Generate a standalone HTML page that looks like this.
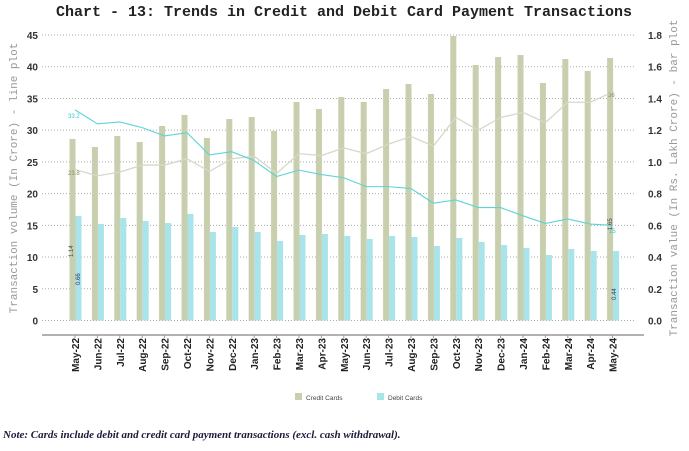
<!DOCTYPE html>
<html><head><meta charset="utf-8"><style>
body{margin:0;background:#fff;width:689px;height:446px;overflow:hidden}
</style></head><body>
<svg width="689" height="446" xmlns="http://www.w3.org/2000/svg">
<text x="344" y="16" text-anchor="middle" font-family="Liberation Mono, monospace" font-weight="bold" font-size="15" fill="#222">Chart - 13: Trends in Credit and Debit Card Payment Transactions</text>
<g id="grid" stroke="#aaa" stroke-dasharray="1,2" stroke-width="1"></g>
<g id="bars"></g><g id="lines"></g><g id="labels"></g>
<line x1="42" y1="335" x2="644" y2="335" stroke="#999" stroke-width="1.5"/>
<text transform="translate(17,178) rotate(-90)" text-anchor="middle" font-family="Liberation Mono, monospace" font-size="11" fill="#999">Transaction volume (In Crore) - line plot</text>
<text transform="translate(677,178) rotate(-90)" text-anchor="middle" font-family="Liberation Mono, monospace" font-size="11" fill="#999">Transaction value (In Rs. Lakh Crore) - bar plot</text>
<rect x="295" y="393" width="7" height="7" fill="#c8cfae"/>
<text x="306" y="400" font-family="Liberation Sans, sans-serif" font-size="6.5" fill="#444">Credit Cards</text>
<rect x="377" y="393" width="7" height="7" fill="#a8e4ea"/>
<text x="388" y="400" font-family="Liberation Sans, sans-serif" font-size="6.5" fill="#444">Debit Cards</text>
<text x="3" y="438" font-family="Liberation Serif, serif" font-style="italic" font-weight="bold" font-size="11" fill="#1a1a3a">Note: Cards include debit and credit card payment transactions (excl. cash withdrawal).</text>
</svg>
<script>
(function(){
const ns="http://www.w3.org/2000/svg";
function el(p,t,a,txt){const e=document.createElementNS(ns,t);for(const k in a)e.setAttribute(k,a[k]);if(txt!=null)e.textContent=txt;document.getElementById(p).appendChild(e);return e;}
const y0=320.5, yT=35, L=(v)=>y0-v*(y0-yT)/45;
for(let i=0;i<=9;i++){const y=L(i*5);el('grid','line',{x1:42,x2:636,y1:y,y2:y});
el('labels','text',{x:38,y:y+4,'text-anchor':'end','font-family':'Liberation Sans, sans-serif','font-weight':'bold','font-size':10,fill:'#333'},String(i*5));
el('labels','text',{x:648,y:y+4,'font-family':'Liberation Sans, sans-serif','font-weight':'bold','font-size':10,fill:'#333'},(i*0.2).toFixed(1));}
const m=["May-22","Jun-22","Jul-22","Aug-22","Sep-22","Oct-22","Nov-22","Dec-22","Jan-23","Feb-23","Mar-23","Apr-23","May-23","Jun-23","Jul-23","Aug-23","Sep-23","Oct-23","Nov-23","Dec-23","Jan-24","Feb-24","Mar-24","Apr-24","May-24"];
const ct=[139,147,136,142,126,115,138,119,117,131,102,109,97,102,89,84,94,36,65,57,55,83,59,71,58];
const dt=[216,224,218,221,223,214,232,227,232,241,235,234,236,239,236,237,246,238,242,245,248,255,249,251,251];
const cl=[23.8,22.8,23.4,24.5,24.5,25.5,23.5,25.5,25.9,23.2,26.3,26.0,27.2,26.3,27.8,29.0,27.5,32.0,30.0,32.0,32.8,31.2,34.4,34.4,36];
const dl=[33.2,31.0,31.3,30.4,29.1,29.6,26.1,26.6,25.2,22.7,23.7,23.0,22.5,21.1,21.1,20.8,18.5,19.0,17.8,17.8,16.5,15.3,16.0,15.2,15];
let p1="",p2="";
m.forEach((n,i)=>{const c=75+22.4*i;
el('bars','rect',{x:c-5.5,y:ct[i],width:6,height:y0-ct[i],fill:'#c8cfae'});
el('bars','rect',{x:c+0.5,y:dt[i],width:6,height:y0-dt[i],fill:'#a8e4ea'});
el('labels','line',{x1:c,x2:c,y1:335,y2:338,stroke:'#999'});
el('labels','text',{transform:`translate(${c+4},338) rotate(-90)`,'text-anchor':'end','font-family':'Liberation Sans, sans-serif','font-weight':'bold','font-size':10,fill:'#222'},n);
p1+=(i?"L":"M")+c+","+L(cl[i]);p2+=(i?"L":"M")+c+","+L(dl[i]);});
el('lines','path',{d:p1,fill:'none',stroke:'#d6d9c6','stroke-width':1.3});
el('lines','path',{d:p2,fill:'none',stroke:'#5fd3d6','stroke-width':1.1});
const t=(x,y,s,f,r)=>el('labels','text',{transform:`translate(${x},${y})`+(r?' rotate(-90)':''),'font-family':'Liberation Sans, sans-serif','font-size':6,fill:f},s);
t(68,118,"33.2","#3cc",0);t(68,175,"23.8","#8a9060",0);t(73,257,"1.14","#445",1);t(80,285,"0.66","#336",1);
t(608,97,"36","#8a9060",0);t(612,230,"1.65","#445",1);t(609,233,"15","#3cc",0);t(616,300,"0.44","#336",1);
})();
</script>
</body></html>
